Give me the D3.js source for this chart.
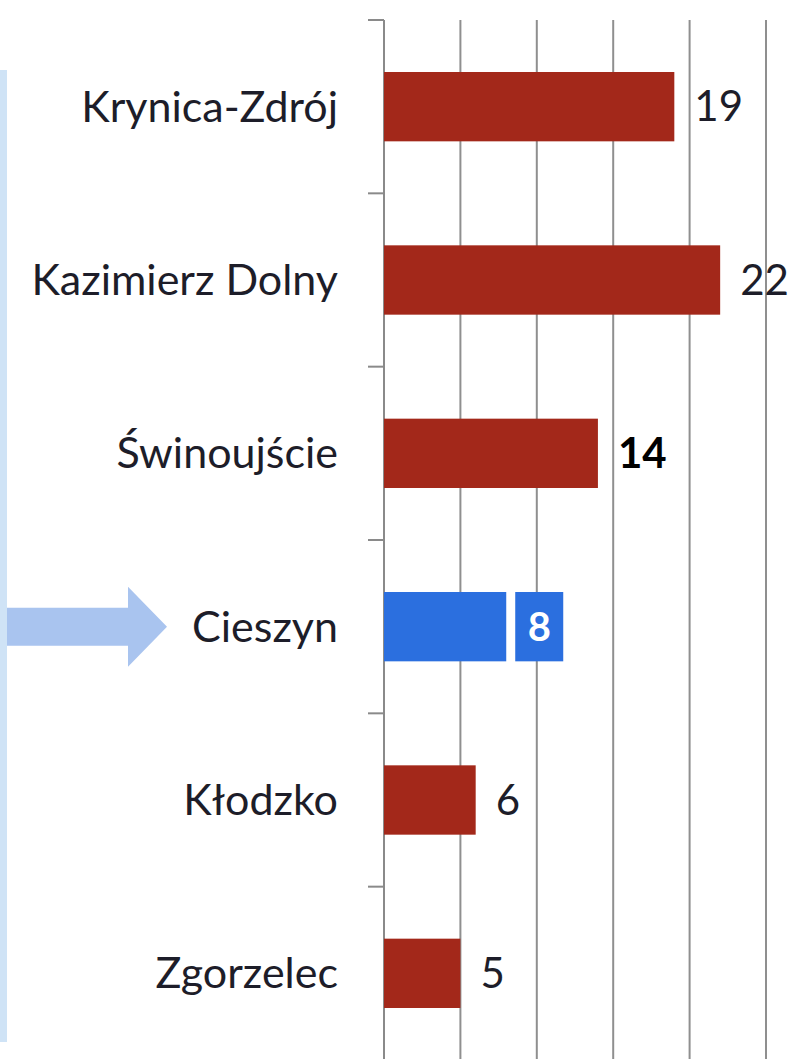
<!DOCTYPE html>
<html>
<head>
<meta charset="utf-8">
<script src="https://cdn.jsdelivr.net/npm/d3@7"></script>
<style>
  body { margin: 0; background: #fff; }
  svg { display: block; }
</style>
</head>
<body>
<div class="chart"></div>
<script>
var categories = ["Krynica-Zdrój", "Kazimierz Dolny", "Świnoujście", "Cieszyn", "Kłodzko", "Zgorzelec"];
var values = [19, 22, 14, 8, 6, 5];
var highlighted = ["Cieszyn"];
var boldLabels = ["Świnoujście"];
var xTicks = [0, 5, 10, 15, 20, 25];

var width = 789, height = 1059;
var red = "#a3281a", blue = "#2b6fdf";
var font = "Lato, 'Open Sans', sans-serif";

var svg = d3.select(".chart")
        .append("svg")
        .attr("width", width)
        .attr("height", height);

var x = d3.scaleLinear()
        .domain([0, 25])
        .range([384, 766]);

var y = d3.scaleBand()
        .domain(categories)
        .range([20, 1060])
        .paddingInner(0.6)
        .paddingOuter(0.3);

// light blue strip on the far left
svg.append("rect")
   .attr("x", 0).attr("y", 70)
   .attr("width", 7).attr("height", 972)
   .style("fill", "#cfe3f6");

// arrow pointing at the highlighted town
var ay = y("Cieszyn") + y.bandwidth() / 2;
svg.append("path")
   .attr("d", "M7," + (ay - 19) + "H128V" + (ay - 40) + "L167," + ay + "L128," + (ay + 40) + "V" + (ay + 19) + "H7Z")
   .style("fill", "#a9c4ef");

// vertical gridlines
svg.selectAll(".grid")
   .data(xTicks.slice(1))
   .enter()
   .append("line")
   .attr("class", "grid")
   .attr("x1", function(d) { return x(d); })
   .attr("x2", function(d) { return x(d); })
   .attr("y1", 20)
   .attr("y2", height)
   .style("stroke", "#8f8f8f")
   .style("stroke-width", 2);

// category axis with ticks between the bands
svg.append("line")
   .attr("x1", x(0)).attr("x2", x(0))
   .attr("y1", 20).attr("y2", height)
   .style("stroke", "#8a8a8a")
   .style("stroke-width", 2);

var seps = d3.range(categories.length + 1).map(function(i) {
  return 20 + i * y.step();
});
svg.selectAll(".sep")
   .data(seps)
   .enter()
   .append("line")
   .attr("class", "sep")
   .attr("x1", x(0) - 16).attr("x2", x(0))
   .attr("y1", function(d) { return d; })
   .attr("y2", function(d) { return d; })
   .style("stroke", "#8a8a8a")
   .style("stroke-width", 2);

svg.selectAll(".cat")
   .data(categories)
   .enter()
   .append("text")
   .attr("class", "cat")
   .attr("x", 338)
   .attr("y", function(d) { return y(d) + y.bandwidth() / 2; })
   .attr("dy", "0.35em")
   .style("text-anchor", "end")
   .style("font-family", font)
   .style("font-size", "43px")
   .style("fill", "#1d1d29")
   .text(function(d) { return d; });

var rows = categories.map(function(c, i) { return {name: c, value: values[i]}; });

svg.selectAll(".bar")
   .data(rows)
   .enter()
   .append("rect")
   .attr("class", "bar")
   .attr("x", x(0))
   .attr("y", function(d) { return y(d.name); })
   .attr("width", function(d) { return x(d.value) - x(0); })
   .attr("height", y.bandwidth())
   .style("fill", function(d) { return highlighted.indexOf(d.name) >= 0 ? blue : red; });

// value labels
var normal = rows.filter(function(d) { return highlighted.indexOf(d.name) < 0; });
svg.selectAll(".val")
   .data(normal)
   .enter()
   .append("text")
   .attr("class", "val")
   .attr("x", function(d) { return x(d.value) + 20; })
   .attr("y", function(d) { return y(d.name) + y.bandwidth() / 2; })
   .attr("dy", "0.35em")
   .style("font-family", font)
   .style("font-size", "42px")
   .style("font-weight", function(d) { return boldLabels.indexOf(d.name) >= 0 ? "bold" : "normal"; })
   .style("fill", function(d) { return boldLabels.indexOf(d.name) >= 0 ? "#000" : "#1d1d29"; })
   .text(function(d) { return d.value; });

// highlighted label sits in its own blue box
var hl = rows.filter(function(d) { return highlighted.indexOf(d.name) >= 0; });
var box = svg.selectAll(".hl")
   .data(hl)
   .enter()
   .append("g")
   .attr("class", "hl")
   .attr("transform", function(d) {
     return "translate(" + (x(d.value) + 9) + "," + y(d.name) + ")";
   });
box.append("rect")
   .attr("width", 48)
   .attr("height", y.bandwidth())
   .style("fill", blue);
box.append("text")
   .attr("x", 24)
   .attr("y", y.bandwidth() / 2)
   .attr("dy", "0.35em")
   .style("text-anchor", "middle")
   .style("font-family", font)
   .style("font-size", "40px")
   .style("font-weight", "bold")
   .style("fill", "#fff")
   .text(function(d) { return d.value; });
</script>
</body>
</html>
